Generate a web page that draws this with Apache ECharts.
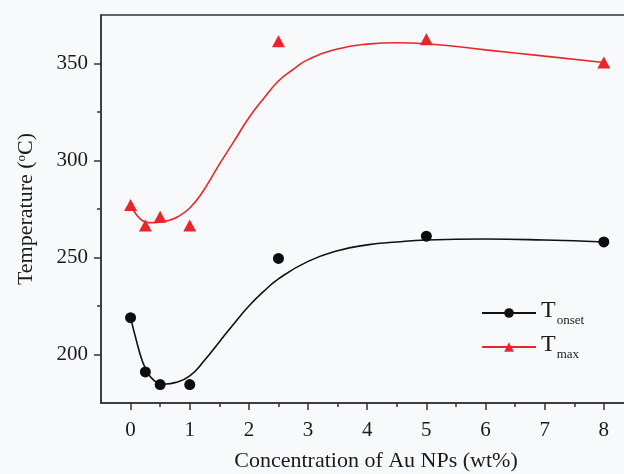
<!DOCTYPE html>
<html>
<head>
<meta charset="utf-8">
<script src="https://cdn.jsdelivr.net/npm/echarts@6/dist/echarts.min.js"></script>
<style>
html,body{margin:0;padding:0;background:#f8f9fb;}
#c{width:624px;height:474px;}
</style>
</head>
<body>
<div id="c"></div>
<script>
// Measured points
const xMarks = [0, 0.25, 0.5, 1, 2.5, 5, 8];
const tOnset = [219, 191, 184.5, 184.5, 249.5, 261, 258];
const tMax = [277, 266.5, 271, 266.5, 361.5, 362.5, 350.5];

// Fitted curves
const onsetFitX = [0, 0.1, 0.2, 0.3, 0.4, 0.5, 0.6, 0.75, 1, 1.25, 1.5, 1.75, 2, 2.25, 2.5, 3, 3.5, 4, 4.5, 5, 6, 7, 8];
const onsetFitY = [219, 207, 196.5, 190, 186.5, 185.2, 184.8, 185.5, 189, 197, 206.5, 216, 225, 232.5, 239, 248, 253.5, 256.5, 258, 259, 259.5, 259, 258];
const maxFitX = [0, 0.1, 0.2, 0.3, 0.4, 0.6, 0.8, 1, 1.2, 1.5, 1.75, 2, 2.25, 2.5, 2.75, 3, 3.5, 4, 4.5, 5, 6, 7, 8];
const maxFitY = [277, 272, 269, 268, 268, 268.8, 271, 275.5, 283, 298, 310, 322, 332, 341, 347, 352, 357.5, 360, 360.7, 360.2, 357, 353.8, 350.5];

// Ticks
const xMajor = [0, 1, 2, 3, 4, 5, 6, 7, 8, 9];
const xMinor = [0.5, 1.5, 2.5, 3.5, 4.5, 5.5, 6.5, 7.5, 8.5];
const yMajor = [200, 250, 300, 350];
const yMinor = [225, 275, 325];

const zip = (xs, ys) => xs.map((x, i) => [x, ys[i]]);
const FONT = 'Liberation Serif';
const AX = '#333';
const TXT = '#1a1a1a';

const chart = echarts.init(document.getElementById('c'));
chart.setOption({
  backgroundColor: '#f8f9fb',
  animation: false,
  grid: {left: 101, top: 15, width: 562, bottom: 71, show: true, borderColor: AX, borderWidth: 1.5,
         backgroundColor: 'transparent', outerBoundsMode: 'none', containLabel: false},
  xAxis: [{
    type: 'value', min: -0.5, max: 9,
    name: 'Concentration of Au NPs (wt%)', nameLocation: 'middle', nameGap: 47,
    nameTextStyle: {fontFamily: FONT, fontSize: 22, color: TXT, padding: [0, 12, 0, 0]},
    axisLine: {onZero: false, lineStyle: {color: AX, width: 1.5}},
    axisTick: {customValues: xMajor, length: 7, lineStyle: {color: AX, width: 1.5}},
    axisLabel: {customValues: xMajor, fontFamily: FONT, fontSize: 21, color: TXT, margin: 17},
    splitLine: {show: false}
  }, {
    type: 'value', min: -0.5, max: 9, position: 'bottom',
    axisLine: {show: false, onZero: false},
    axisTick: {customValues: xMinor, length: 4, lineStyle: {color: AX, width: 1.5}},
    axisLabel: {show: false},
    splitLine: {show: false}
  }],
  yAxis: [{
    type: 'value', min: 175, max: 375,
    name: 'Temperature ({sup|o}C)', nameLocation: 'middle', nameGap: 64,
    nameTextStyle: {fontFamily: FONT, fontSize: 22, color: TXT, rich: {sup: {fontFamily: FONT, fontSize: 13, color: TXT, padding: [0, 0, 9, 0]}}},
    axisLine: {onZero: false, lineStyle: {color: AX, width: 1.5}},
    axisTick: {customValues: yMajor, length: 7, lineStyle: {color: AX, width: 1.5}},
    axisLabel: {customValues: yMajor, fontFamily: FONT, fontSize: 21, color: TXT, margin: 13},
    splitLine: {show: false}
  }, {
    type: 'value', min: 175, max: 375, position: 'left',
    axisLine: {show: false, onZero: false},
    axisTick: {customValues: yMinor, length: 4, lineStyle: {color: AX, width: 1.5}},
    axisLabel: {show: false},
    splitLine: {show: false}
  }],
  legend: {
    orient: 'vertical', left: 476, top: 294, itemWidth: 54, itemHeight: 12, itemGap: 6,
    data: ['Tonset', 'Tmax'],
    formatter: n => n === 'Tonset' ? '{t|T}{s|onset}' : '{t|T}{s|max}',
    textStyle: {fontFamily: FONT, color: TXT, rich: {
      t: {fontFamily: FONT, fontSize: 24, color: TXT, verticalAlign: 'top'},
      s: {fontFamily: FONT, fontSize: 13, color: TXT, verticalAlign: 'top', padding: [15, 0, 0, 1]}
    }}
  },
  series: [{
    name: 'Tonset', type: 'line', smooth: 0.5, showSymbol: false, symbol: 'circle', symbolSize: 10,
    data: zip(onsetFitX, onsetFitY), lineStyle: {color: '#111', width: 1.6}, itemStyle: {color: '#111'}, z: 2
  }, {
    name: 'Tmax', type: 'line', smooth: 0.5, showSymbol: false, symbol: 'triangle', symbolSize: [12, 11],
    data: zip(maxFitX, maxFitY), lineStyle: {color: '#e8262a', width: 1.6}, itemStyle: {color: '#e8262a'}, z: 2
  }, {
    name: 'Tonset', type: 'scatter', symbol: 'circle', symbolSize: 11,
    data: zip(xMarks, tOnset), itemStyle: {color: '#0d0d0d', opacity: 1}, z: 3
  }, {
    name: 'Tmax', type: 'scatter', symbol: 'triangle', symbolSize: [13, 12],
    data: zip(xMarks, tMax), itemStyle: {color: '#e8262a', opacity: 1}, z: 3
  }]
});
</script>
</body>
</html>
